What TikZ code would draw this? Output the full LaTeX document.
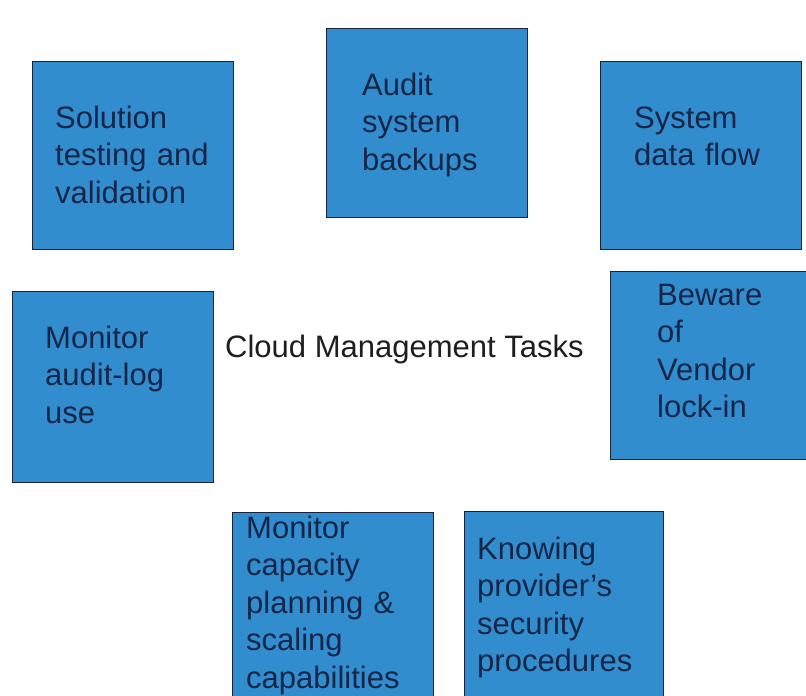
\documentclass[tikz,border=0pt]{standalone}
\usepackage{fontspec}
\setmainfont{Liberation Sans}
\definecolor{boxfill}{RGB}{50,141,206}
\definecolor{boxline}{RGB}{24,34,60}
\definecolor{boxtext}{RGB}{22,38,72}
\definecolor{titletext}{RGB}{30,30,30}
\tikzset{
  taskbox/.style={draw=boxline, line width=1.4pt, fill=boxfill, inner sep=0pt, anchor=north west},
  tasktext/.style={anchor=base west, inner sep=0pt, text width=200pt, align=left, text=boxtext,
    font=\fontsize{31}{37.5}\selectfont},
  titlestyle/.style={anchor=base west, inner sep=0pt, text=titletext, font=\fontsize{31}{37.5}\selectfont}
}
\begin{document}
\begin{tikzpicture}[x=1pt,y=-1pt]
\useasboundingbox[fill=white] (0,0) rectangle (806,696);
% boxes
\node[taskbox, minimum width=201pt, minimum height=188pt] (b1) at (32,61) {};
\node[taskbox, minimum width=201pt, minimum height=189pt] (b2) at (326,28) {};
\node[taskbox, minimum width=201pt, minimum height=188pt] (b3) at (600,61) {};
\node[taskbox, minimum width=201pt, minimum height=191pt] (b4) at (12,291) {};
\node[taskbox, minimum width=201pt, minimum height=188pt] (b5) at (610,271) {};
\node[taskbox, minimum width=201pt, minimum height=200pt] (b6) at (232,512) {};
\node[taskbox, minimum width=199pt, minimum height=200pt] (b7) at (464,511) {};
% texts
\node[tasktext] (t1) at (55,128) {Solution\\testing and\\validation};
\node[tasktext] (t2) at (362,95) {Audit\\system\\backups};
\node[tasktext] (t3) at (634,128) {System\\data flow};
\node[tasktext] (t4) at (45,348) {Monitor\\audit-log\\use};
\node[tasktext] (t5) at (657,305) {Beware\\of\\Vendor\\lock-in};
\node[tasktext] (t6) at (246,538) {Monitor\\capacity\\planning \&\\scaling\\capabilities};
\node[tasktext] (t7) at (477,559) {Knowing\\provider’s\\security\\procedures};
\node[titlestyle] (title) at (225,357) {Cloud Management Tasks};
\end{tikzpicture}
\end{document}
